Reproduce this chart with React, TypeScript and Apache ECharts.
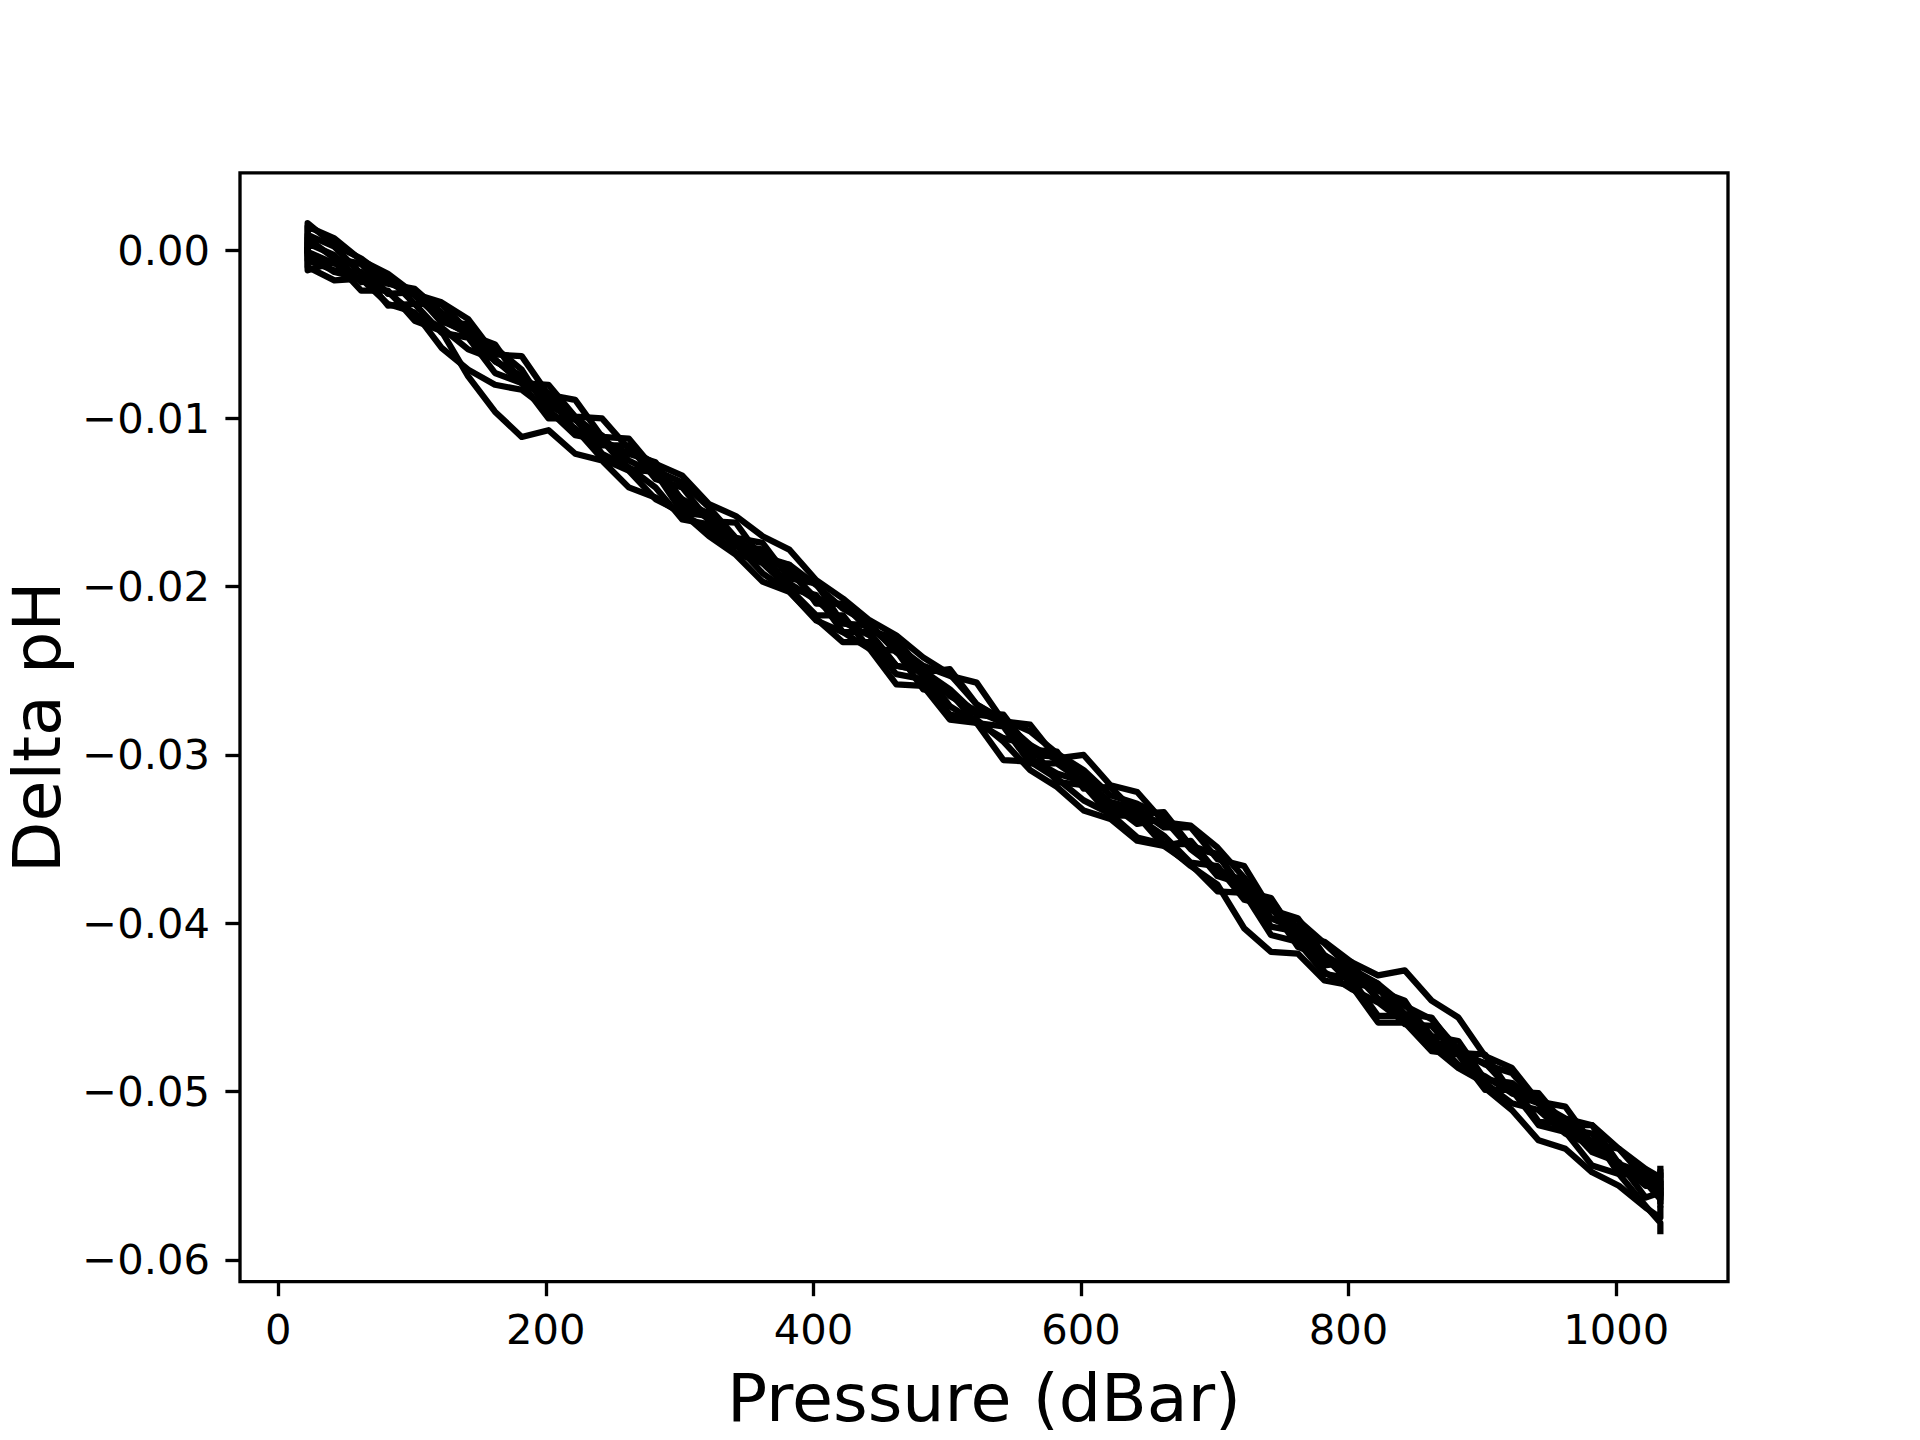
import React, { useEffect, useRef } from "react";
import * as echarts from "echarts";

// Pressure samples (dBar) shared by all profiles (first and last pressures repeated: vertical jumps)
const PRESSURE = [22, 22, 42, 62, 82, 102, 122, 142, 162, 182, 202, 222, 242, 262, 282, 302, 322, 342, 362, 382, 402, 422, 442, 462, 482, 502, 522, 542, 562, 582, 602, 622, 642, 662, 682, 702, 722, 742, 762, 782, 802, 822, 842, 862, 882, 902, 922, 942, 962, 982, 1002, 1022, 1033, 1033];

// Delta pH per profile
const PROFILE_1 = [0, 0.0014, 0.0007, -0.0006, -0.0014, -0.0026, -0.0031, -0.0041, -0.0062, -0.0063, -0.0086, -0.0089, -0.0111, -0.0112, -0.0131, -0.0138, -0.0153, -0.0171, -0.0174, -0.0195, -0.0198, -0.0222, -0.0223, -0.0238, -0.0253, -0.0263, -0.0275, -0.0276, -0.0297, -0.0298, -0.032, -0.0319, -0.0335, -0.0334, -0.0354, -0.0359, -0.0382, -0.0386, -0.0408, -0.0411, -0.0423, -0.0431, -0.0428, -0.0446, -0.0456, -0.0479, -0.0486, -0.0506, -0.0509, -0.0531, -0.0534, -0.0552, -0.0553, -0.056];
const PROFILE_2 = [0, 0.0007, -0.0005, -0.0008, -0.0019, -0.0027, -0.0041, -0.005, -0.0056, -0.0079, -0.008, -0.0099, -0.01, -0.0118, -0.0127, -0.0134, -0.0151, -0.0158, -0.017, -0.0178, -0.0196, -0.0207, -0.022, -0.0229, -0.0242, -0.0252, -0.027, -0.028, -0.0294, -0.0303, -0.0317, -0.0333, -0.0333, -0.0353, -0.0353, -0.0372, -0.0377, -0.0402, -0.0405, -0.0429, -0.0439, -0.0447, -0.0459, -0.0468, -0.0484, -0.0491, -0.0501, -0.0507, -0.0522, -0.0531, -0.0544, -0.0553, -0.0558, -0.0548];
const PROFILE_3 = [0, -0.0012, -0.0007, -0.0024, -0.0024, -0.0042, -0.0048, -0.0075, -0.0096, -0.0111, -0.0107, -0.0121, -0.0125, -0.0141, -0.0147, -0.0157, -0.0166, -0.018, -0.0186, -0.0201, -0.0217, -0.0217, -0.0237, -0.0238, -0.0261, -0.0263, -0.0281, -0.0283, -0.0305, -0.0305, -0.0316, -0.0329, -0.0341, -0.0338, -0.0356, -0.0368, -0.0376, -0.0392, -0.0402, -0.0421, -0.0428, -0.0436, -0.0454, -0.0456, -0.0477, -0.0478, -0.0501, -0.0504, -0.0522, -0.0525, -0.0549, -0.055, -0.0562, -0.0555];
const PROFILE_4 = [0, -0.0006, -0.0012, -0.0013, -0.0033, -0.0032, -0.0049, -0.0052, -0.0073, -0.0079, -0.01, -0.01, -0.0121, -0.0129, -0.0141, -0.016, -0.0163, -0.0175, -0.0192, -0.0203, -0.022, -0.0227, -0.0237, -0.0258, -0.0259, -0.0279, -0.0281, -0.0303, -0.0304, -0.0314, -0.0327, -0.0335, -0.0349, -0.0353, -0.0366, -0.0377, -0.0403, -0.0417, -0.0418, -0.0434, -0.0437, -0.0459, -0.0459, -0.0476, -0.0478, -0.0499, -0.0499, -0.052, -0.0524, -0.0544, -0.0549, -0.0568, -0.0578, -0.0583];
const PROFILE_5 = [0, 0.0009, 0.0002, -0.0014, -0.002, -0.0023, -0.0037, -0.0049, -0.0066, -0.0075, -0.0087, -0.0107, -0.011, -0.013, -0.0132, -0.0156, -0.0158, -0.0172, -0.0182, -0.0187, -0.021, -0.021, -0.0226, -0.0231, -0.0251, -0.0249, -0.027, -0.0279, -0.0286, -0.0299, -0.0309, -0.0324, -0.0329, -0.0337, -0.0355, -0.0359, -0.0381, -0.0385, -0.0409, -0.0419, -0.0428, -0.0445, -0.0454, -0.047, -0.0477, -0.0498, -0.0511, -0.0529, -0.0534, -0.0548, -0.0556, -0.0569, -0.0575, -0.057];
const PROFILE_6 = [0, -0.001, -0.0018, -0.0017, -0.0025, -0.0038, -0.0046, -0.0059, -0.0065, -0.0079, -0.0087, -0.01, -0.0116, -0.0116, -0.0136, -0.0141, -0.0161, -0.0162, -0.0184, -0.0187, -0.0199, -0.0213, -0.0222, -0.0239, -0.0249, -0.0265, -0.0274, -0.0281, -0.0302, -0.0311, -0.0316, -0.0328, -0.0332, -0.0343, -0.0343, -0.0362, -0.0366, -0.0392, -0.0398, -0.0412, -0.0427, -0.0436, -0.0449, -0.0457, -0.0475, -0.0484, -0.0489, -0.0507, -0.0516, -0.052, -0.0534, -0.0546, -0.0551, -0.0546];
const PROFILE_7 = [0, 0.0004, -0.0003, -0.0019, -0.0016, -0.0032, -0.0032, -0.0048, -0.0058, -0.0071, -0.0096, -0.0106, -0.0124, -0.0131, -0.0148, -0.0156, -0.017, -0.0181, -0.0197, -0.0203, -0.0219, -0.0233, -0.0233, -0.0252, -0.0255, -0.0276, -0.0279, -0.0292, -0.0309, -0.0319, -0.0333, -0.0338, -0.0351, -0.0354, -0.0365, -0.0381, -0.0382, -0.0407, -0.0411, -0.043, -0.0433, -0.0455, -0.0455, -0.0473, -0.0486, -0.0495, -0.0507, -0.0511, -0.0525, -0.0532, -0.0543, -0.0556, -0.0556, -0.0565];
const PROFILE_8 = [0, -0.0003, -0.0013, -0.0017, -0.0032, -0.0037, -0.0058, -0.0071, -0.008, -0.0083, -0.0095, -0.011, -0.0113, -0.0131, -0.0131, -0.0153, -0.0156, -0.0175, -0.0178, -0.0191, -0.0207, -0.0211, -0.0224, -0.0235, -0.0247, -0.0253, -0.0257, -0.028, -0.0282, -0.0302, -0.03, -0.0318, -0.0322, -0.034, -0.0342, -0.0355, -0.0373, -0.0392, -0.0397, -0.0419, -0.0431, -0.044, -0.0446, -0.047, -0.0475, -0.0493, -0.0495, -0.0518, -0.0519, -0.0536, -0.0542, -0.0563, -0.056, -0.0567];
const PROFILE_9 = [0, 0.0016, 0.0003, -0.0005, -0.0017, -0.0025, -0.0043, -0.0044, -0.0065, -0.0078, -0.0085, -0.0099, -0.0112, -0.0125, -0.0133, -0.0148, -0.0157, -0.0174, -0.0185, -0.0198, -0.0208, -0.0221, -0.0229, -0.0247, -0.025, -0.0261, -0.0276, -0.0278, -0.03, -0.0301, -0.0312, -0.033, -0.0337, -0.0348, -0.0364, -0.0366, -0.0386, -0.039, -0.0414, -0.042, -0.0436, -0.0438, -0.046, -0.0461, -0.0478, -0.0483, -0.05, -0.0501, -0.052, -0.052, -0.0543, -0.0549, -0.0555, -0.055];
const PROFILE_10 = [0, -0.0001, -0.0008, -0.0008, -0.0026, -0.0025, -0.0042, -0.0049, -0.0066, -0.0075, -0.0092, -0.0101, -0.0113, -0.0121, -0.0126, -0.0149, -0.016, -0.0176, -0.0179, -0.0201, -0.0205, -0.0227, -0.0227, -0.0247, -0.025, -0.0271, -0.0281, -0.029, -0.0294, -0.0316, -0.0318, -0.0336, -0.0336, -0.0354, -0.0351, -0.037, -0.0374, -0.0397, -0.0404, -0.0425, -0.0423, -0.0445, -0.0448, -0.0467, -0.047, -0.0493, -0.0495, -0.0507, -0.0523, -0.053, -0.0545, -0.0554, -0.0564, -0.0559];

const PROFILES = [PROFILE_1, PROFILE_2, PROFILE_3, PROFILE_4, PROFILE_5, PROFILE_6, PROFILE_7, PROFILE_8, PROFILE_9, PROFILE_10];

const X_TICKS = [0, 200, 400, 600, 800, 1000];
const Y_TICKS = [0, -0.01, -0.02, -0.03, -0.04, -0.05, -0.06];
const X_LABEL = "Pressure (dBar)";
const Y_LABEL = "Delta pH";

const FONT = "DejaVu Sans";

export default function App() {
  const ref = useRef<HTMLDivElement>(null);

  useEffect(() => {
    if (!ref.current) return;
    const chart = echarts.init(ref.current, null, { renderer: "svg" });

    const tickStyle = { show: true, inside: false, length: 14.6, lineStyle: { color: "#000", width: 3.33 } };

    chart.setOption({
      animation: false,
      backgroundColor: "#ffffff",
      grid: {
        left: 240,
        right: 192,
        top: 172.8,
        bottom: 158.4,
        show: true,
        borderColor: "#000",
        borderWidth: 3.33,
        backgroundColor: "transparent",
        containLabel: false,
        outerBoundsMode: "none",
      },
      xAxis: {
        type: "value",
        min: -28.55,
        max: 1083.55,
        name: X_LABEL,
        nameLocation: "middle",
        nameGap: 83,
        nameTextStyle: { fontFamily: FONT, fontSize: 66.67, color: "#000" },
        axisLine: { show: false, onZero: false },
        axisTick: { ...tickStyle, customValues: X_TICKS },
        axisLabel: {
          customValues: X_TICKS,
          margin: 27,
          fontFamily: FONT,
          fontSize: 41.67,
          color: "#000",
          formatter: (v: number) => String(v),
        },
        splitLine: { show: false },
      },
      yAxis: {
        type: "value",
        min: -0.061295,
        max: 0.004595,
        name: Y_LABEL,
        nameLocation: "middle",
        nameRotate: 90,
        nameGap: 170,
        nameTextStyle: { fontFamily: FONT, fontSize: 66.67, color: "#000" },
        axisLine: { show: false, onZero: false },
        axisTick: { ...tickStyle, customValues: Y_TICKS },
        axisLabel: {
          customValues: Y_TICKS,
          margin: 30,
          fontFamily: FONT,
          fontSize: 41.67,
          color: "#000",
          formatter: (v: number) => (Math.abs(v) < 1e-9 ? "0.00" : (v < 0 ? "\u2212" : "") + Math.abs(v).toFixed(2)),
        },
        splitLine: { show: false },
      },
      series: PROFILES.map((vals, k) => ({
        type: "line",
        name: "profile " + (k + 1),
        data: PRESSURE.map((p, i) => [p, vals[i]]),
        showSymbol: false,
        symbol: "none",
        clip: false,
        lineStyle: { color: "#000", width: 6.25, join: "round", cap: "square" },
        emphasis: { disabled: true },
      })),
    });

    return () => chart.dispose();
  }, []);

  return (
    <div
      ref={ref}
      style={{ position: "absolute", left: 0, top: 0, width: 1920, height: 1440, background: "#fff" }}
    />
  );
}
